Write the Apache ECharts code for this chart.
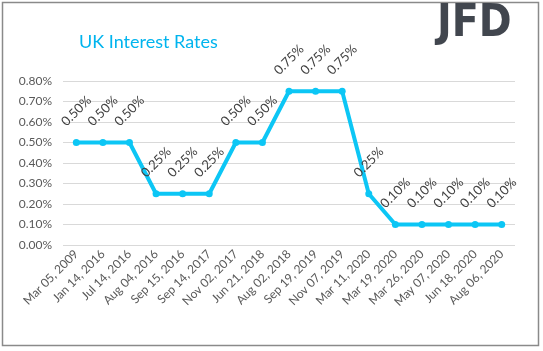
<!DOCTYPE html>
<html><head><meta charset="utf-8">
<script src="https://cdn.jsdelivr.net/npm/echarts@6/dist/echarts.min.js"></script>
<style>html,body{margin:0;padding:0;background:#fff}#c{width:543px;height:351px}</style>
</head><body><div id="c"></div>
<script>
const categories = ["Mar 05, 2009","Jan 14, 2016","Jul 14, 2016","Aug 04, 2016","Sep 15, 2016","Sep 14, 2017","Nov 02, 2017","Jun 21, 2018","Aug 02, 2018","Sep 19, 2019","Nov 07, 2019","Mar 11, 2020","Mar 19, 2020","Mar 26, 2020","May 07, 2020","Jun 18, 2020","Aug 06, 2020"];
const rates = [0.50,0.50,0.50,0.25,0.25,0.25,0.50,0.50,0.75,0.75,0.75,0.25,0.10,0.10,0.10,0.10,0.10];
const titleText = "UK Interest Rates";
const logoText = "JFD";

const chart = echarts.init(document.getElementById('c'), null, {renderer:'canvas'});
const FONT = "Lato, 'Open Sans', sans-serif";
chart.setOption({
  animation:false,
  backgroundColor:'#fff',
  title:{text:titleText, left:74, top:28, textStyle:{color:'#00b4ee', fontSize:18, fontWeight:'normal', fontFamily:FONT}},
  graphic:[
    {type:'rect', shape:{x:2.5,y:2.5,width:536,height:343}, style:{fill:'none', stroke:'#8a8a8a', lineWidth:1.5}, silent:true},
    {type:'text', left:437, top:3, style:{text:logoText, fill:'#41464e', font:"bold 44px 'DejaVu Sans Condensed', sans-serif"}}
  ],
  grid:{left:63, right:28, top:81, bottom:106},
  xAxis:{type:'category', data:categories, boundaryGap:true,
    axisLine:{show:false}, axisTick:{show:false},
    axisLabel:{rotate:45, interval:0, color:'#595959', fontSize:12, fontFamily:FONT, margin:7}},
  yAxis:{type:'value', min:0, max:0.8, interval:0.1,
    axisLine:{show:false}, axisTick:{show:false},
    splitLine:{lineStyle:{color:'#d9d9d9', width:1}},
    axisLabel:{color:'#595959', fontSize:12, fontFamily:FONT, margin:11, formatter:v=>v.toFixed(2)+'%'}},
  series:[{type:'line', data:rates, symbol:'circle', symbolSize:7,
    lineStyle:{color:'#0cc6f5', width:4}, itemStyle:{color:'#0cc6f5'},
    label:{show:true, position:'top', distance:28, rotate:45, align:'center', verticalAlign:'middle',
      color:'#404040', fontSize:13, fontFamily:FONT, formatter:p=>p.value.toFixed(2)+'%'}}]
});
</script></body></html>
